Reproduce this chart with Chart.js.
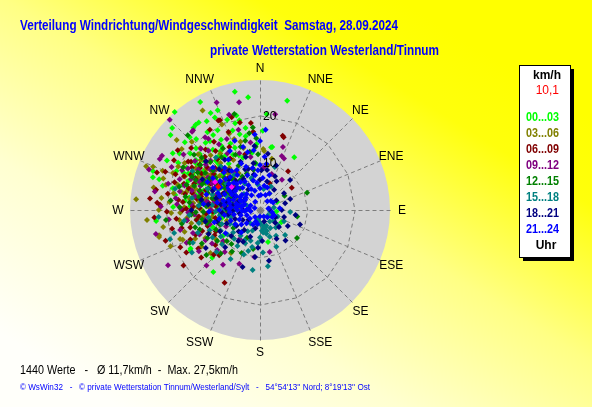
<!DOCTYPE html>
<html lang="de">
<head>
<meta charset="utf-8">
<title>Verteilung Windrichtung/Windgeschwindigkeit</title>
<script src="https://cdn.jsdelivr.net/npm/chart.js@4.4.1/dist/chart.umd.min.js"></script>
<style>
  html, body { margin: 0; padding: 0; background: #ffff80; overflow: hidden; }
  #wind { display: block; }
</style>
</head>
<body>
<canvas id="wind" width="592" height="407"></canvas>
<script>
// one list per 3-hour slot: [direction in degrees (0 = N), speed in km/h]
const h00_03 = [
  [348,25.6],[354,24.0],[331,26.1],[319,27.5],[313,25.4],[337,22.9],[333,23.0],[329,21.9],[325,22.6],[321,22.4],
  [312,21.4],[303,22.0],[298,22.3],[287,23.7],[284,21.2],[340,20.3],[344,19.1],[323,22.6],[334,21.8],[347,19.5],
  [332,19.1],[350,17.6],[349,15.9],[316,21.4],[328,18.7],[321,18.3],[319,16.8],[300,17.9],[299,16.2],[310,24.7],
  [290,24.1],[287,22.3],[14,23.8],[4,20.3],[10,13.5],[33,13.3],[11,13.6],[264,22.1],[240,17.0],[225,14.3],
  [217,16.4],[241,16.8],[258,8.2],[166,7.0],[65,4.0],[288,10.0],[305,14.5],[296,12.8],[310,13.2],[318,12.0],
  [292,8.6],[300,9.4],[282,11.5],[276,9.0],[326,15.0],[338,14.2],[302,6.5],[285,6.8],[270,12.3],[262,13.5],
  [315,10.8],[308,17.2],[295,19.5],[280,15.2],[342,11.6],[322,9.2],[290,4.8],[250,10.6],[272,18.4],[305,20.8],
  [235,9.5],[355,9.8],[120,5.2],[95,3.5],[297,15.6],[311,16.0],[326,19.9],[304,11.0],[283,13.8],[266,10.0],
  [318,14.0],[322,16.2],[327,13.6],[331,17.0],[336,15.4],[341,17.8],[345,16.6],[312,15.2],[306,16.8],[301,14.4],
  [296,18.0],[292,16.4],[288,17.2],[284,19.0],[280,18.2],[277,16.0],[273,14.8],[314,18.8],[318,20.2],[324,18.0],
  [329,15.8],[334,13.0],[339,12.4],[308,12.2],[303,11.8],[299,13.2],[294,14.6],[289,12.6],[286,15.8],[281,14.2],
  [316,12.4],[312,11.0],[320,10.4],[326,11.8],[352,12.2],[357,14.0],[2,16.8],[346,20.6],[309,19.0],[300,20.0],
  [305,16.0],[297,17.0],[313,17.4],[318,13.2],[323,14.4],[309,14.6],[302,15.2],[293,13.8]
];
const h03_06 = [
  [291,25.8],[275,26.3],[255,22.1],[310,23.0],[292,22.2],[293,20.0],[249,17.5],[268,16.9],[264,15.5],[273,13.3],
  [330,24.3],[314,14.7],[345,13.6],[3,12.9],[288,21.5],[229,13.9],[256,22.0],[13,11.1],[4,12.5],[280,12.0],
  [285,9.5],[296,10.6],[300,13.8],[305,8.4],[290,7.2],[278,6.6],[270,8.8],[262,10.2],[258,12.6],[310,11.2],
  [318,15.6],[324,11.0],[299,16.4],[283,17.0],[275,19.2],[295,5.6],[288,14.3],[302,18.8],[266,14.0],[246,11.8],
  [238,14.6],[252,7.4],[315,7.8],[330,9.0],[340,16.0],[308,21.0],[282,23.0],[270,21.4],[298,3.8],[276,4.5],
  [261,5.8],[226,8.2],[214,11.0],[248,20.4],[336,19.8],[285,12.8],[292,11.9],[10,9.6],[265,24.0],[279,15.0],
  [294,8.0],[306,12.8],[272,10.6],[256,9.0],[320,13.0],[287,18.2],
  [272,16.0],[276,14.2],[281,18.6],[284,16.0],[289,15.2],[294,17.4],[298,19.6],[303,16.2],[307,14.2],[312,17.6],
  [268,18.8],[263,17.2],[259,14.8],[254,16.6],[250,18.0],[246,15.0],[270,12.4],[274,10.8],[279,8.4],[283,11.6],
  [291,9.4],[297,12.2],[301,10.0],[307,9.8],[313,12.6],[319,10.2],[325,14.6],[332,12.0],[338,17.4],[344,15.0],
  [266,7.2],[257,11.4],[243,13.0],[236,11.2],[229,10.4],[285,20.6],[277,21.0],[292,24.4],[260,20.8],[315,20.4],
  [298,14.8],[304,13.4],[310,16.4],[285,14.6],[278,13.0],[271,14.4],[264,12.0],[316,18.2]
];
const h06_09 = [
  [281,22.4],[274,21.8],[273,21.2],[234,20.0],[306,21.5],[280,19.8],[304,18.3],[336,20.8],[355,16.6],[354,18.5],
  [206,17.1],[222,12.9],[269,19.7],[17,16.4],[36,10.1],[55,8.2],[335,20.9],[343,20.5],[18,16.2],[284,14.8],
  [290,12.2],[296,13.5],[278,11.0],[272,12.8],[266,11.4],[260,9.6],[286,9.0],[300,10.6],[308,12.4],[314,16.2],
  [320,14.0],[294,17.6],[288,19.0],[276,16.4],[264,17.8],[256,15.2],[250,13.0],[244,10.4],[298,7.4],[282,7.0],
  [270,6.2],[305,15.5],[312,19.6],[326,17.4],[292,15.0],[280,13.6],[268,14.6],[258,19.0],[247,16.0],[300,21.0],
  [290,23.2],[330,12.6],[345,12.2],[310,8.0],[232,12.0],[240,18.0],[275,9.4],[285,5.2],[262,7.6],[350,8.8],
  [20,6.0],[298,11.8],[283,10.2],[271,15.6],[302,14.6],[316,11.4],
  [273,14.2],[277,17.4],[282,16.2],[286,13.0],[289,17.0],[293,19.4],[297,16.4],[301,12.4],[305,17.8],[309,14.4],
  [313,13.0],[318,17.2],[323,15.6],[328,20.0],[261,13.6],[257,17.0],[253,11.6],[249,14.6],[245,18.6],[241,11.0],
  [238,15.4],[268,10.0],[264,13.0],[274,7.8],[279,9.6],[288,6.2],[293,8.6],[297,10.2],[303,8.6],[314,9.6],
  [320,8.4],[334,14.8],[338,17.8],[347,19.0],[292,21.6],[266,22.4],[276,23.4],[252,21.0],[231,16.0],[226,13.6],
  [296,15.2],[302,17.0],[307,16.0],[312,15.4],[287,15.8],[283,12.8],[277,12.4],[270,16.4],[262,15.6]
];
const h09_12 = [
  [315,27.0],[338,24.5],[349,23.2],[320,22.0],[297,23.8],[297,18.5],[323,19.3],[9,20.5],[20,14.2],[22,12.3],
  [25,12.0],[36,7.9],[299,23.7],[257,22.6],[239,22.7],[319,21.9],[227,12.4],[201,12.2],[167,9.1],[224,16.3],
  [187,10.0],[288,16.8],[282,14.0],[276,12.0],[294,11.0],[302,13.0],[310,15.0],[316,18.0],[328,16.4],[300,8.2],
  [290,6.4],[270,10.4],[262,15.6],[254,11.0],[248,13.8],[286,20.2],[278,18.0],[305,10.0],[296,15.8],[340,12.8],
  [352,14.4],[5,9.0],[18,8.0],[268,6.8],[244,8.0],[230,10.2],[214,14.0],[320,11.0],[285,8.8],[272,21.0],
  [264,19.4],[306,20.0],[342,21.2],[258,6.0],[215,7.5],[292,13.6],[280,9.8],[312,7.0],
  [271,16.8],[275,14.6],[279,11.4],[283,17.4],[287,13.4],[291,18.2],[295,14.2],[299,11.6],[303,15.6],[307,17.2],
  [311,12.8],[315,14.8],[319,16.6],[324,18.6],[330,13.8],[335,16.6],[345,17.6],[266,13.8],[260,11.8],[256,17.4],
  [251,15.0],[246,17.0],[241,13.2],[236,15.6],[283,6.0],[277,8.2],[289,9.8],[308,9.4],[326,9.6],[350,11.4],
  [296,20.8],[290,25.0],[280,22.6],[252,9.2],[235,12.4],[220,11.6],
  [300,17.6],[304,12.2],[309,13.6],[294,16.0],[286,15.0],[281,13.0],[274,17.6],[268,15.2]
];
const h12_15 = [
  [70,10.6],[127,9.8],[203,9.9],[355,17.5],[357,15.2],[356,13.4],[358,11.8],[354,10.0],[352,16.4],[350,12.5],
  [290,9.2],[296,7.8],[302,8.8],[284,8.0],[278,7.4],[270,9.0],[288,11.6],[294,13.4],[306,11.6],[312,10.2],
  [318,8.8],[326,7.6],[300,5.8],[286,4.6],[275,5.4],[264,8.4],[258,10.8],[250,9.0],[242,12.6],[236,6.8],
  [282,13.2],[276,15.0],[296,16.0],[310,18.2],[324,13.8],[334,10.4],[340,8.2],[346,6.6],[268,12.0],[255,14.2],
  [230,14.8],[220,9.4],[205,6.5],[190,8.4],[290,14.8],[304,14.0],[272,17.0],[264,20.0],[316,22.0],[60,6.0],
  [100,8.0],[30,4.0],[345,21.0],[298,10.4],[283,9.6],[309,6.8],
  [274,11.4],[279,12.6],[284,10.4],[288,13.4],[293,11.8],[297,13.0],[301,15.4],[306,9.4],[310,13.0],[314,14.6],
  [320,11.6],[329,15.2],[336,12.8],[343,14.0],[348,15.0],[266,14.6],[261,12.4],[256,11.6],[252,13.4],[246,10.2],
  [240,14.2],[234,11.2],[227,9.6],[222,12.4],[214,10.6],[270,7.0],[281,5.8],[292,6.6],[317,6.2],[332,8.0],
  [351,8.6],[276,19.0],[286,17.8],[299,18.6],[260,16.8],[245,16.4],
  [302,12.6],[307,15.8],[295,15.0],[289,16.4],[280,16.0],[275,12.8],[268,13.6],[312,16.6]
];
const h15_18 = [
  [255,18.8],[244,15.8],[211,12.1],[187,12.8],[172,12.0],[204,7.7],[170,3.9],[94,6.4],[164,3.9],[262,16.2],
  [19,9.6],[240,6.2],[230,7.4],[220,6.0],[210,5.2],[200,4.6],[190,3.0],[180,5.8],[160,6.0],[150,4.4],
  [140,3.2],[130,5.0],[120,2.8],[110,4.0],[100,2.2],[80,3.0],[250,8.6],[260,7.0],[270,5.0],[280,4.2],
  [290,3.0],[300,6.0],[315,4.8],[330,6.4],[345,7.0],[355,5.4],[248,11.5],[236,10.0],[226,12.8],[262,11.0],
  [274,13.0],[288,10.6],[296,9.8],[308,9.0],[318,12.4],[238,17.0],[266,21.5],[252,20.0],[200,10.0],[176,9.0],
  [156,8.5],[135,7.5],[195,2.0],[215,3.5],[125,2.0],[320,14.5],[300,16.5],[284,18.5],[10,4.5],[25,5.5],
  [168,3.4],[175,4.4],[162,4.6],[178,3.0],
  [256,6.4],[262,8.6],[268,9.4],[272,7.6],[276,10.2],[282,8.0],[286,6.6],[292,7.4],[304,7.4],[312,8.2],
  [324,9.2],[245,7.0],[242,9.4],[233,8.6],[228,10.8],[222,8.2],[217,6.8],[212,9.0],[207,7.2],[197,6.8],
  [192,8.0],[184,7.0],[178,6.4],[172,4.8],[165,5.2],[158,3.6],[148,6.4],[138,5.0],[128,3.8],[115,5.6],
  [258,13.2],[266,15.0],[280,14.6],[292,12.0],[250,14.0],[240,11.6],[196,9.0],[182,2.6]
];
const h18_21 = [
  [106,5.3],[183,8.0],[170,10.9],[132,5.4],[223,10.8],[197,12.6],[55,6.2],[300,4.0],[290,5.0],[280,6.0],
  [270,3.6],[260,4.4],[250,5.6],[240,4.2],[230,3.2],[310,6.8],[320,8.0],[330,5.0],[340,9.2],[350,7.6],
  [0,6.4],[10,8.6],[20,10.0],[30,7.0],[45,9.0],[60,4.0],[75,5.5],[90,4.6],[120,6.8],[140,8.4],
  [150,7.0],[160,2.6],[200,6.0],[215,8.0],[225,6.4],[285,9.6],[295,8.4],[305,10.4],[315,12.2],[276,11.0],
  [266,8.0],[255,9.4],[245,12.0],[235,14.0],[325,13.0],[345,11.6],[355,13.6],[8,12.0],[186,10.0],[194,4.0],
  [110,9.0],[98,7.6],[85,2.0],[270,14.5],
  [262,6.8],[268,5.8],[273,7.2],[278,8.4],[283,7.4],[288,6.8],[292,10.8],[298,6.2],[303,7.0],[308,8.4],
  [314,9.2],[322,10.6],[332,7.4],[338,11.0],[344,9.0],[352,10.0],[2,8.4],[14,6.2],[24,7.8],[35,5.2],
  [248,7.6],[242,9.6],[236,6.0],[228,8.2],[218,5.4],[208,7.6],[176,6.6],[130,4.2],[115,3.6],[70,6.8],
  [258,11.8],[280,12.6],[298,13.8],[312,15.4]
];
const h21_24 = [
  [354,12.7],[5,11.3],[348,12.5],[0,9.5],[354,5.8],[318,9.4],[216,1.8],[297,4.7],[290,3.5],[285,5.2],
  [280,4.0],[275,6.2],[270,4.8],[265,3.2],[260,5.6],[255,4.2],[300,5.8],[305,3.8],[310,5.0],[315,6.6],
  [320,4.4],[325,7.2],[330,3.6],[335,5.8],[340,7.8],[345,4.2],[350,9.0],[355,3.0],[0,4.6],[5,6.8],
  [10,5.2],[15,7.6],[20,3.4],[30,4.0],[40,2.4],[60,3.2],[80,1.8],[100,2.6],[120,3.0],[135,2.2],
  [150,1.6],[180,1.4],[200,2.6],[230,2.8],[245,4.8],[250,6.6],[288,7.0],[294,8.2],[302,7.6],[310,8.6],
  [296,2.2],[278,2.4],[262,7.6],[270,8.6],[280,9.2],[306,10.4],[320,11.6],[330,9.8],[338,10.6],[345,13.8],
  [0,14.6],[190,3.0],[236,8.8],[255,10.0],[240,6.0],[225,4.0],[286,11.8],[298,12.6],[312,13.4],
  [272,2.8],[276,5.2],[282,6.6],[286,3.6],[291,6.0],[295,4.4],[299,6.8],[303,5.0],[307,6.6],[311,4.0],
  [316,8.0],[322,6.0],[327,8.8],[332,6.8],[337,4.8],[342,9.6],[347,6.4],[352,7.4],[357,8.4],[3,3.2],
  [8,9.8],[18,5.0],[50,3.0],[85,4.2],[110,3.2],[206,3.4],
  [220,6.2],[232,5.0],[248,3.0],[258,8.8],[266,6.4],[268,10.8],[276,12.0],[292,9.6],[304,12.0],[316,11.0],
  [328,12.6],[333,14.0],[340,15.6],[4,17.0],[356,16.0],[262,2.0],[290,1.2],[330,2.0],
  [284,8.0],[289,9.0],[296,10.6],[300,9.6],[305,8.2],[312,9.8],[318,7.4],[324,10.2],[278,7.6],[272,6.6],
  [268,3.8],[282,4.6]
];
// latest value (red) and two highlighted marks
const currentWind = [[299,10.1]];
const highlightWind = [[302,11.2],[309,7.7]];

const windSlots = [h00_03, h03_06, h06_09, h09_12, h12_15, h15_18, h18_21, h21_24];
const slotLabels = ['00...03', '03...06', '06...09', '09...12', '12...15', '15...18', '18...21', '21...24'];
const slotColors = ['#00ff00', '#808000', '#800000', '#800080', '#008000', '#008080', '#000080', '#0000ff'];
const directions = ['N', 'NNE', 'NE', 'ENE', 'E', 'ESE', 'SE', 'SSE', 'S', 'SSW', 'SW', 'WSW', 'W', 'WNW', 'NW', 'NNW'];
const ringTicks = [10, 20];
const maxSpeed = 27.5;
const currentLabel = '10,1';

const titleText = 'Verteilung Windrichtung/Windgeschwindigkeit  Samstag, 28.09.2024';
const stationText = 'private Wetterstation Westerland/Tinnum';
const summaryText = '1440 Werte   -   \u00d8 11,7km/h  -  Max. 27,5km/h';
const footerText = '\u00a9 WsWin32   -   \u00a9 private Wetterstation Tinnum/Westerland/Sylt   -   54\u00b054\'13\'\' Nord; 8\u00b019\'13\'\' Ost';

const FONT = '"Liberation Sans", Arial, sans-serif';

function toPoints(list) {
    return list.map(([dir, speed]) => {
        const a = dir * Math.PI / 180;
        return { x: speed * Math.sin(a), y: speed * Math.cos(a) };
    });
}

const windRosePlugin = {
    id: 'windRose',

    beforeDraw(chart) {
        const { ctx, width, height } = chart;
        const g = ctx.createLinearGradient(400, 0, 140, 420);
        g.addColorStop(0, '#ffff00');
        g.addColorStop(0.15, '#ffff0c');
        g.addColorStop(0.42, '#ffff84');
        g.addColorStop(0.7, '#ffffd0');
        g.addColorStop(1, '#fffffa');
        ctx.save();
        ctx.fillStyle = g;
        ctx.fillRect(0, 0, width, height);
        ctx.restore();
    },

    beforeDatasetsDraw(chart) {
        const { ctx, scales: { x, y } } = chart;
        const cx = x.getPixelForValue(0);
        const cy = y.getPixelForValue(0);
        const r = x.getPixelForValue(maxSpeed) - cx;
        const k = r / maxSpeed;

        ctx.save();
        ctx.fillStyle = '#d3d3d3';
        ctx.beginPath();
        ctx.arc(cx, cy, r, 0, Math.PI * 2);
        ctx.fill();

        ctx.strokeStyle = '#7c7c7c';
        ctx.lineWidth = 1;
        ctx.setLineDash([4, 3]);
        directions.forEach((_, i) => {
            const a = i * Math.PI / 8;
            ctx.beginPath();
            ctx.moveTo(cx + 0.5, cy + 0.5);
            ctx.lineTo(cx + 0.5 + r * Math.sin(a), cy + 0.5 - r * Math.cos(a));
            ctx.stroke();
        });
        ringTicks.forEach(v => {
            ctx.beginPath();
            directions.forEach((_, i) => {
                const a = i * Math.PI / 8;
                const px = cx + 0.5 + v * k * Math.sin(a);
                const py = cy + 0.5 - v * k * Math.cos(a);
                if (i === 0) ctx.moveTo(px, py); else ctx.lineTo(px, py);
            });
            ctx.closePath();
            ctx.stroke();
        });
        ctx.setLineDash([]);

        // compass labels round the disc
        ctx.fillStyle = '#000';
        ctx.font = '12px ' + FONT;
        ctx.textAlign = 'center';
        ctx.textBaseline = 'middle';
        directions.forEach((d, i) => {
            const a = i * Math.PI / 8;
            const s = Math.sin(a), c = Math.cos(a);
            const lr = r + 12;
            const extra = Math.abs(c) > 0.9 && Math.abs(s) > 0.1 ? 6 * Math.sign(s) : 0;
            ctx.fillText(d, cx + lr * s + extra, cy - lr * c + 1);
        });
        ctx.restore();
    },

    afterDatasetsDraw(chart) {
        const { ctx, scales: { x, y } } = chart;
        const cx = x.getPixelForValue(0);
        const cy = y.getPixelForValue(0);
        const k = (x.getPixelForValue(maxSpeed) - cx) / maxSpeed;
        ctx.save();
        ctx.fillStyle = '#000';
        ctx.font = '12px ' + FONT;
        ctx.textAlign = 'left';
        ctx.textBaseline = 'middle';
        ringTicks.forEach(v => ctx.fillText(String(v), cx + 3, cy - v * k + 1));
        ctx.restore();
    },

    afterDraw(chart) {
        const { ctx } = chart;
        ctx.save();
        ctx.textBaseline = 'alphabetic';

        ctx.fillStyle = '#0000ff';
        ctx.font = 'bold 14px ' + FONT;
        ctx.textAlign = 'left';
        ctx.fillText(titleText, 20, 30, 378);
        ctx.fillText(stationText, 210, 55, 229);

        ctx.fillStyle = '#000';
        ctx.font = '12px ' + FONT;
        ctx.fillText(summaryText, 20, 374, 218);
        ctx.fillStyle = '#0000ff';
        ctx.font = '9px ' + FONT;
        ctx.fillText(footerText, 20, 390, 350);

        // legend box with shadow
        ctx.fillStyle = '#000';
        ctx.fillRect(523, 69, 51, 192);
        ctx.fillStyle = '#fff';
        ctx.fillRect(519, 65, 52, 193);
        ctx.strokeStyle = '#000';
        ctx.lineWidth = 1;
        ctx.strokeRect(519.5, 65.5, 51, 192);

        ctx.textAlign = 'center';
        ctx.fillStyle = '#000';
        ctx.font = 'bold 12px ' + FONT;
        ctx.fillText('km/h', 547, 79);
        ctx.fillStyle = '#ff0000';
        ctx.font = '12px ' + FONT;
        ctx.textAlign = 'right';
        ctx.fillText(currentLabel, 559, 94);

        ctx.textAlign = 'left';
        ctx.font = 'bold 12px ' + FONT;
        slotLabels.forEach((lbl, i) => {
            ctx.fillStyle = slotColors[i];
            ctx.fillText(lbl, 526, 121 + i * 16, 33);
        });
        ctx.fillStyle = '#000';
        ctx.textAlign = 'center';
        ctx.fillText('Uhr', 546, 249);
        ctx.restore();
    }
};

const datasets = windSlots.map((list, i) => ({
    label: slotLabels[i],
    data: toPoints(list),
    backgroundColor: slotColors[i],
    order: windSlots.length - i + 1
}));
datasets.push({ label: 'mark', data: toPoints(highlightWind), backgroundColor: '#ff00ff', order: 1 });
datasets.push({ label: 'aktuell', data: toPoints(currentWind), backgroundColor: '#ff0000', order: 0 });

new Chart(document.getElementById('wind'), {
    type: 'scatter',
    data: { datasets },
    options: {
        responsive: false,
        animation: false,
        devicePixelRatio: 1,
        events: [],
        layout: { padding: { left: 130, top: 80, right: 202, bottom: 67 } },
        elements: {
            point: { pointStyle: 'rectRot', radius: 3, borderWidth: 0, hoverRadius: 3 }
        },
        datasets: { scatter: { clip: false } },
        scales: {
            x: { type: 'linear', min: -maxSpeed, max: maxSpeed, display: false },
            y: { type: 'linear', min: -maxSpeed, max: maxSpeed, display: false }
        },
        plugins: {
            legend: { display: false },
            tooltip: { enabled: false },
            title: { display: false }
        }
    },
    plugins: [windRosePlugin]
});
</script>
</body>
</html>
